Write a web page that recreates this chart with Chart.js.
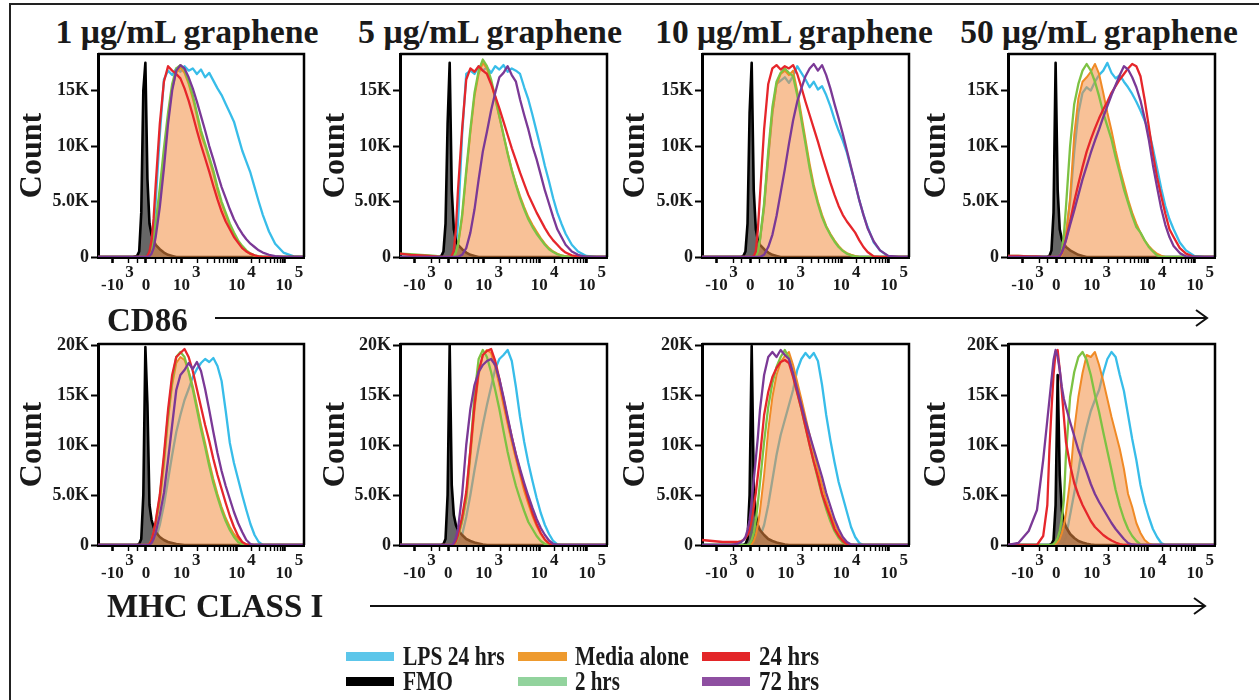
<!DOCTYPE html>
<html>
<head>
<meta charset="utf-8">
<script src="https://cdn.jsdelivr.net/npm/chart.js@4.4.1/dist/chart.umd.min.js"></script>
<style>
  body { margin: 0; background: #fff; width: 1259px; height: 700px; overflow: hidden; position: relative;
         font-family: "Liberation Serif", "Times New Roman", serif; color: #1a1a1a; }
  .frame { position: absolute; left: 9px; top: 3px; width: 1300px; height: 760px;
           border-left: 2px solid #222; border-top: 2px solid #222; }
  .title { position: absolute; top: 16px; font-weight: bold; font-size: 33px; line-height: 33px;
           white-space: nowrap; transform-origin: 50% 50%; }
  .axis-name { position: absolute; left: 107px; font-weight: bold; font-size: 33px; line-height: 33px; white-space: nowrap; }
  canvas { position: absolute; }
  .sw { position: absolute; height: 9px; width: 48px; }
  .lg { position: absolute; font-weight: bold; font-size: 27px; line-height: 27px; white-space: nowrap; transform-origin: 0 50%; }
</style>
</head>
<body>
<div class="frame"></div>
<div id="titles"></div>
<div id="panels"></div>
<div class="axis-name" style="top:304px">CD86</div>
<div class="axis-name" style="top:590px">MHC CLASS I</div>
<svg width="1259" height="700" style="position:absolute;left:0;top:0">
  <line x1="215" y1="318" x2="1206" y2="318" stroke="#111" stroke-width="2"/>
  <polyline points="1196,310 1207,318 1196,326" fill="none" stroke="#111" stroke-width="2"/>
  <line x1="370" y1="606" x2="1204" y2="606" stroke="#111" stroke-width="2"/>
  <polyline points="1194,598 1205,606 1194,614" fill="none" stroke="#111" stroke-width="2"/>
</svg>
<div id="legend"></div>
<script>
"use strict";
// x positions in display channels (0..100 across the plot), shared by every curve
const xs = [0, 5, 10, 14, 17, 19, 20, 21, 22, 23,
  24, 25, 26, 27, 28, 30, 32, 34, 36, 38,
  40, 42, 44, 46, 48, 50, 52, 54, 56, 58,
  60, 62, 64, 66, 68, 70, 72, 74, 76, 78,
  80, 83, 86, 90, 95, 100];

const panelTitles = ["1 \u03bcg/mL graphene", "5 \u03bcg/mL graphene", "10 \u03bcg/mL graphene", "50 \u03bcg/mL graphene"];

// x axis ticks (biexponential display)
const xMajor = [7, 23.3, 40.5, 67.3, 90.3];
const xMajorLabels = [["        3", "-10"], ["", "0"], ["       3", "10"], ["       4", "10"], ["       5", "10"]];
const xMinor = [15, 19, 28, 32, 35.5, 38, 48.5, 53.1, 56.5, 59, 61.1, 62.9, 64.4, 65.8,
  74.4, 78.5, 81.4, 83.7, 85.6, 87.2, 88.5, 89.5];

// y axis ticks, counts in thousands
const yTicksCd86 = [0, 5, 10, 15];
const yLabelsCd86 = ["0", "5.0K", "10K", "15K"];
const yTicksMhc = [0, 5, 10, 15, 20];
const yLabelsMhc = ["0", "5.0K", "10K", "15K", "20K"];

// ---- CD86 (top row), one row per graphene dose ----
const cd86Lps = [
  [0,0,0,0,0,0,0,0,0,0.1, 0.3,0.6,1.2,2.5,5,11,16,16.8,16.4,17, 16.7,17.2,16.8,17,16.5,16.9,16.2,16.6,15.9,15.2, 14.6,13.8,13,12.2,10.9,9.6,8.6,7.6,6.3,5, 3.8,2.3,1.2,0.4,0.05,0],
  [0,0,0,0,0,0,0,0,0,0, 0,0.1,0.3,1,3,11,16.5,16.8,16.5,17.2, 16.8,17.1,16.6,17.2,16.9,17.3,16.7,17,16.8,16.5, 15.3,14.2,12.8,11.3,9.8,8.2,6.8,5.3,4,3, 2.1,1.1,0.5,0.1,0,0],
  [0,0,0,0,0,0,0,0,0,0, 0,0,0.1,0.5,1.5,4.5,9,13,15.6,15.9, 16.2,15.7,16.3,17.2,16.6,16,15.3,15.8,15.1,15.4, 14.6,13.6,12.4,11.4,10.5,9.4,8,6.6,5.1,3.8, 2.7,1.3,0.6,0.05,0,0],
  [0,0,0,0,0,0,0,0,0,0, 0,0,0.3,0.8,2,5,9.5,13,14.8,15.3, 15,15.8,16.4,16.8,17.5,16.6,16.1,16.4,15.8,15.3, 14.7,14,13.2,12.3,11.4,9.8,8,6.2,4.6,3.4, 2.5,1.3,0.6,0.1,0,0]
];
const cd86Fmo = [
  [0,0,0,0,0,0.1,0.5,4,15,17.5, 7,3,2,1.5,1.1,0.7,0.4,0.2,0.1,0, 0,0,0,0,0,0,0,0,0,0, 0,0,0,0,0,0,0,0,0,0, 0,0,0,0,0,0],
  [0,0,0,0,0,0,0.1,0.5,3,12, 17.5,6,2.5,1.5,1.1,0.7,0.4,0.2,0.1,0, 0,0,0,0,0,0,0,0,0,0, 0,0,0,0,0,0,0,0,0,0, 0,0,0,0,0,0],
  [0,0,0,0,0,0,0.1,0.5,3,13, 17.5,6,2.5,1.5,1.1,0.7,0.4,0.2,0.1,0, 0,0,0,0,0,0,0,0,0,0, 0,0,0,0,0,0,0,0,0,0, 0,0,0,0,0,0],
  [0,0,0,0,0,0,0.1,0.6,4,17.5, 6,2.5,1.6,1.2,0.9,0.6,0.4,0.2,0.1,0, 0,0,0,0,0,0,0,0,0,0, 0,0,0,0,0,0,0,0,0,0, 0,0,0,0,0,0]
];
const cd86Media = [
  [0,0,0,0,0,0,0,0,0,0, 0,0.2,0.6,1.6,2.8,5.8,9.2,12.5,15.2,16.6, 17.1,16.6,15.6,14.3,12.7,11,10,8.8,7.5,6, 4.8,3.8,2.8,2.1,1.4,0.9,0.5,0.25,0.1,0.05, 0,0,0,0,0,0],
  [0,0,0,0,0,0,0,0,0,0, 0,0,0.1,0.4,1,3.5,7.5,11.2,14.5,16.5, 17.5,17,15.8,14.2,12.6,11,9.4,7.9,6.6,5.5, 4.5,3.6,2.9,2.3,1.7,1.2,0.8,0.5,0.3,0.15, 0.08,0,0,0,0,0],
  [0,0,0,0,0,0,0,0,0,0, 0,0,0.1,0.5,1.5,4.5,9,13,15.5,16.5, 16.8,16.4,16.8,15,12.8,10.6,8.4,6.5,5,3.8, 2.8,2.1,1.5,1,0.6,0.35,0.2,0.1,0,0, 0,0,0,0,0,0],
  [0,0,0,0,0,0,0,0,0,0, 0,0,0.2,0.8,2,5.3,11,14.3,15.8,16.2, 16.7,17.4,16.5,14.8,13,11.4,9.6,8,6.6,5.2, 4,3,2.2,1.5,1,0.6,0.3,0.12,0,0, 0,0,0,0,0,0]
];
const cd86H2 = [
  [0,0,0,0,0,0,0,0,0,0, 0,0.2,0.7,1.7,3,6.2,9.8,13,15.6,17, 17.3,16.9,15.8,14.6,13,11.4,10.2,9,7.8,6.3, 5,4,3,2.2,1.5,1,0.6,0.3,0.15,0.05, 0,0,0,0,0,0],
  [0.3,0.25,0.2,0.15,0.1,0.05,0,0,0,0, 0,0,0.1,0.4,1.1,3.8,7.8,11.5,14.8,16.8, 17.8,17.2,16,14.4,12.7,11,9.3,7.8,6.5,5.3, 4.3,3.4,2.7,2.1,1.6,1.1,0.7,0.45,0.25,0.12, 0.05,0,0,0,0,0],
  [0,0,0,0,0,0,0,0,0,0, 0,0,0.1,0.5,1.6,4.8,9.5,13.5,15.8,16.6, 17,16.6,16.3,14.6,12.4,10.2,8,6.2,4.8,3.6, 2.7,2,1.4,0.9,0.55,0.3,0.15,0.05,0,0, 0,0,0,0,0,0],
  [0.1,0.1,0.05,0,0,0,0,0,0,0, 0,0.1,0.5,2,4.5,10,13.8,15.6,16.8,17.4, 16.8,15.8,14.5,13,11.8,10.6,9,7.6,6.1,4.9, 3.7,2.7,2.2,1.5,0.9,0.5,0.15,0,0,0, 0,0,0,0,0,0]
];
const cd86H24 = [
  [0,0,0,0,0,0,0,0,0,0, 0.1,0.5,1.5,3.5,6.5,12,15.8,17.2,16.8,16.5, 16.1,15.2,14.1,12.8,11.4,10.1,8.9,7.7,6.4,5.2, 4.1,3.2,2.5,1.8,1.3,0.8,0.5,0.3,0.15,0.05, 0,0,0,0,0,0],
  [0.3,0.2,0.15,0.1,0.05,0,0,0,0,0, 0,0.1,0.6,2.5,6,11.5,16,17,16.7,17.2, 16.8,16.5,15.6,14.5,13.4,12.2,11,9.8,8.7,7.6, 6.6,5.6,4.8,4,3.3,2.6,2,1.5,1.1,0.7, 0.4,0.15,0.05,0,0,0],
  [0,0,0,0,0,0,0,0,0,0, 0,0.1,0.5,2.5,5.5,11.5,15.6,17,17.3,16.9, 17.2,17,17.3,16.5,15.3,14,12.8,11.6,10.4,9.1, 7.9,6.7,5.6,4.6,3.8,3.2,2.7,2.2,1.5,0.9, 0.45,0.05,0,0,0,0],
  [0.1,0.1,0.05,0.05,0,0,0,0,0,0, 0,0.1,0.4,0.9,1.6,3.2,5,6.6,8.1,9.5, 10.6,11.6,12.5,13.3,14,14.8,15.4,16,16.5,17, 17.4,17.2,16.3,14.2,11.8,9.3,7.2,5.5,3.9,2.5, 1.8,0.8,0.3,0,0,0]
];
const cd86H72 = [
  [0,0,0,0,0,0,0,0,0,0, 0,0.1,0.3,0.8,1.8,4.5,8,12,15,16.8, 17.3,17,16.2,15.2,14,12.7,11.4,10,8.8,7.5, 6.3,5.3,4.3,3.4,2.7,2.1,1.6,1.2,0.9,0.6, 0.4,0.2,0.08,0,0,0],
  [0,0,0,0,0,0,0,0,0,0, 0,0,0,0,0,0.2,0.8,2.2,4.3,7, 9.5,11.3,13.2,14.8,16.2,16.6,17.2,16.4,15.8,14.2, 12.8,11.5,10,8.8,7.4,6,4.8,3.6,2.5,1.8, 1.1,0.5,0.2,0,0,0],
  [0,0,0,0,0,0,0,0,0,0, 0,0,0,0,0,0.2,0.9,2,3.7,5.8, 7.9,10.2,12.3,14,15.2,16.3,17,17.4,16.8,17.3, 16.4,15.2,13.8,12.5,11.1,9.6,8.1,6.6,5.1,3.8, 2.6,1.4,0.6,0.1,0,0],
  [0,0,0,0,0,0,0,0,0,0, 0,0.1,0.4,0.9,1.5,2.9,4.2,5.6,7,8.2, 9.4,10.5,11.5,12.6,13.6,14.6,15.5,16.4,17.2,16.9, 16.2,15.3,14.1,12.5,10.6,8.3,6.3,4.4,2.9,1.8, 1,0.35,0.05,0,0,0]
];

// ---- MHC class I (bottom row) ----
const mhcLps = [
  [0,0,0,0,0,0,0,0,0,0, 0,0,0,0.1,0.5,2,4,6.5,9,11.3, 13,14.5,15.6,16.8,17.6,18.2,18.6,18.3,18.7,17.9, 16.4,13.4,10.2,8.2,6.6,5,3.5,2.1,1,0.3, 0,0,0,0,0,0],
  [0,0,0,0,0,0,0,0,0,0, 0,0,0,0,0.2,1,2.8,5,7.5,9.8, 12,14,15.8,17.6,18.6,19,19.5,18.4,15.8,12.8, 10.3,8.2,6.4,4.7,3.2,2,1.1,0.4,0.05,0, 0,0,0,0,0,0],
  [0,0,0,0,0,0,0,0,0,0, 0,0,0.1,0.4,0.8,2,4,6.5,9,11, 12.5,14,15.5,17.5,18.6,19.2,18.7,19.2,18.4,16, 13,10.5,8.3,6.3,4.8,3.3,1.8,0.8,0.2,0, 0,0,0,0,0,0],
  [0,0,0,0,0,0,0,0,0,0, 0,0,0.1,0.3,0.8,3,5.2,7.4,10,11.8, 13.4,14.5,15.5,17.2,18.6,19.3,18.8,17,15.4,13, 10.6,8.5,6,4.2,2.8,1.6,0.8,0.2,0,0, 0,0,0,0,0,0]
];
const mhcFmo = [
  [0,0,0,0,0,0,0.1,0.6,5,19.8, 14,4,2.5,1.8,1.3,0.8,0.5,0.3,0.2,0.1, 0.05,0,0,0,0,0,0,0,0,0, 0,0,0,0,0,0,0,0,0,0, 0,0,0,0,0,0],
  [0,0,0,0,0,0,0,0.1,0.6,5, 20,6,3,2,1.5,1,0.6,0.4,0.25,0.15, 0.05,0,0,0,0,0,0,0,0,0, 0,0,0,0,0,0,0,0,0,0, 0,0,0,0,0,0],
  [0,0,0,0,0,0,0,0.1,0.6,5, 19.9,6,3,2,1.5,1,0.6,0.4,0.25,0.15, 0.05,0,0,0,0,0,0,0,0,0, 0,0,0,0,0,0,0,0,0,0, 0,0,0,0,0,0],
  [0,0,0,0,0,0,0,0.1,0.5,4, 17,7,3.5,2.4,1.8,1.1,0.7,0.4,0.25,0.12, 0.05,0,0,0,0,0,0,0,0,0, 0,0,0,0,0,0,0,0,0,0, 0,0,0,0,0,0]
];
const mhcMedia = [
  [0,0,0,0,0,0,0,0,0,0, 0,0.1,0.4,1,2,4.3,8,12.5,16,18.2, 18.8,18.5,17.4,15.9,14,12,10.2,8.3,6.6,5.1, 3.8,2.7,1.8,1.1,0.6,0.25,0.05,0,0,0, 0,0,0,0,0,0],
  [0,0,0,0,0,0,0,0,0,0, 0,0,0.1,0.3,0.8,2.3,4.5,8.8,13.5,17, 19,19.5,19.2,17.8,16,14,12.1,10.3,8.6,7, 5.4,4.1,2.9,1.9,1.1,0.5,0.1,0,0,0, 0,0,0,0,0,0],
  [0,0,0,0,0,0,0,0,0,0, 0.1,0.4,1,2,3.4,7,11.5,14.8,17,18.3, 18.9,19.3,18,16.3,14.6,12.8,11,9.3,7.6,6, 4.5,3.2,2.1,1.2,0.6,0.2,0.05,0,0,0, 0,0,0,0,0,0],
  [0,0,0,0,0,0,0,0,0,0.1, 0.3,0.6,1.2,2,3.2,6.5,11.5,14.8,17.2,19, 18.8,19.3,18,16.4,14.6,12.8,11.2,9.6,7.6,5.1, 3.8,2.2,1.2,0.5,0.15,0,0,0,0,0, 0,0,0,0,0,0]
];
const mhcH2 = [
  [0,0,0,0,0,0,0,0,0,0, 0,0.1,0.5,1.2,2.2,4.8,8.5,13,16.5,18.8, 19.3,18.8,17.3,15.6,13.6,11.6,9.8,7.9,6.2,4.8, 3.5,2.4,1.5,0.8,0.3,0.05,0,0,0,0, 0,0,0,0,0,0],
  [0,0,0,0,0,0,0,0,0,0, 0,0,0.1,0.3,0.8,2.5,4.8,9.5,15,18.6, 19.5,18.8,17.3,15.5,13.6,11.4,9.3,7.5,5.9,4.6, 3.4,2.3,1.6,0.9,0.4,0.1,0,0,0,0, 0,0,0,0,0,0],
  [0,0,0,0,0,0,0,0,0,0.1, 0.5,1.2,2.5,4.2,6.2,10.3,13.8,16.2,17.8,18.8, 19.5,18.7,17,15.3,13.6,11.8,10,8.3,6.6,5, 3.6,2.4,1.4,0.7,0.25,0.05,0,0,0,0, 0,0,0,0,0,0],
  [0,0,0,0,0,0,0,0,0.1,0.3, 0.7,1.4,2.6,4.5,9,14.8,17.3,18.8,19.3,18.5, 17,15,13.3,11.3,9.4,7.5,5.5,3.9,2.6,1.6, 0.9,0.4,0.05,0,0,0,0,0,0,0, 0,0,0,0,0,0]
];
const mhcH24 = [
  [0,0,0,0,0,0,0,0,0,0, 0,0.1,0.5,1.3,2.4,5,9,13.5,17,18.8, 19.2,19.6,18.8,17.4,15.6,13.8,12,10.4,8.6,7, 5.6,4.2,2.9,1.8,0.9,0.3,0.05,0,0,0, 0,0,0,0,0,0],
  [0,0,0,0,0,0,0,0,0,0, 0,0,0.1,0.4,1,2.8,5.3,9.5,14,17.4, 19,19.4,19.6,18.4,16.6,14.6,12.6,10.8,9,7.4, 5.9,4.5,3.2,2.1,1.2,0.55,0.15,0,0,0, 0,0,0,0,0,0],
  [0.5,0.4,0.3,0.3,0.3,0.4,0.5,0.7,1,1.5, 2.5,3.8,5.2,7,8.8,13,15.3,16.8,17.7,18.3, 18.5,18.2,16.8,15.2,13.6,11.8,10,8.3,6.8,5.1, 3.9,2.8,1.6,0.9,0.4,0.05,0,0,0,0, 0,0,0,0,0,0],
  [0,0,0,0,0.9,4,9.5,13.5,17,19.3, 19.5,17.5,15.3,12.8,10.3,8,6.2,5,4,3.2, 2.4,1.8,1.4,1,0.7,0.45,0.25,0.1,0,0, 0,0,0,0,0,0,0,0,0,0, 0,0,0,0,0,0]
];
const mhcH72 = [
  [0,0,0,0,0,0,0,0,0,0, 0,0,0.2,0.6,1.2,3,5.2,8.5,12,15.5, 17,17.5,18.2,17.6,18.3,17.4,15.6,13.5,11.3,9.2, 7.4,5.9,4.6,3.3,2.2,1.3,0.5,0.1,0,0, 0,0,0,0,0,0],
  [0,0,0,0,0,0,0,0,0,0, 0,0,0.2,0.7,1.6,5,10,13.6,16,17.3, 18,18.4,18.6,18,16.6,14.8,12.8,10.8,9.1,7.6, 6.2,4.9,3.7,2.6,1.7,1,0.45,0.12,0,0, 0,0,0,0,0,0],
  [0,0,0,0,0.1,0.3,0.5,0.8,1.5,2.5, 4.3,6.5,8.6,10.8,13.5,17,18.8,19.3,18.8,19.5, 19,18.6,17.2,15.6,14,12.4,11,9.6,8.2,6.8, 5.2,3.9,2.6,1.6,0.8,0.3,0.05,0,0,0, 0,0,0,0,0,0],
  [0,0.2,1.4,3.5,8.5,12.5,14.5,16.5,18.5,19.5, 18.8,17.5,15.8,14.6,13.8,12.3,10.9,9.5,8.4,7.3, 6.1,5.1,4.3,3.6,2.9,2.2,1.6,1.1,0.6,0.2, 0.05,0,0,0,0,0,0,0,0,0, 0,0,0,0,0,0]
];

// drawing style per sample (lower order = drawn on top)
const series = [
  { key: "lps",   label: "LPS 24 hrs",  color: "#38bde9", swatch: "#5cc6ea", width: 2.3, order: 6 },
  { key: "fmo",   label: "FMO",         color: "#000000", swatch: "#000000", width: 2.6, order: 5, fill: "rgba(95,95,95,0.95)" },
  { key: "media", label: "Media alone", color: "#f08a26", swatch: "#ee9a2e", width: 2,   order: 4, fill: "rgba(243,142,66,0.55)" },
  { key: "h2",    label: "2 hrs",       color: "#7dc243", swatch: "#92d39d", width: 2.3, order: 3 },
  { key: "h24",   label: "24 hrs",      color: "#e6262b", swatch: "#e32628", width: 2.3, order: 2 },
  { key: "h72",   label: "72 hrs",      color: "#7b3996", swatch: "#8e4fa1", width: 2.3, order: 1 }
];
const rows = [
  { sets: { lps: cd86Lps, fmo: cd86Fmo, media: cd86Media, h2: cd86H2, h24: cd86H24, h72: cd86H72 },
    yMax: 18.3, yTicks: yTicksCd86, yLabels: yLabelsCd86, top: 54, bottom: 257 },
  { sets: { lps: mhcLps, fmo: mhcFmo, media: mhcMedia, h2: mhcH2, h24: mhcH24, h72: mhcH72 },
    yMax: 20.1, yTicks: yTicksMhc, yLabels: yLabelsMhc, top: 344, bottom: 545 }
];

const FONT = "'Liberation Serif','Times New Roman',serif";
const colLeft = [98, 400, 702, 1008];
const colWidth = [206, 207, 207, 207];
const axisW = [81, 80, 82, 87];
const titleCenter = [187, 490, 794, 1099];
const titleWidth = [263, 264, 278, 278];
const PAD = 8, XAXIS_H = 50;
const xTickValues = xMajor.concat(xMinor).sort((a, b) => a - b);

// top and right edges of the plot box
const boxPlugin = {
  id: "box",
  afterDraw(chart) {
    const { ctx, chartArea: a } = chart;
    ctx.save();
    ctx.strokeStyle = "#000";
    ctx.lineWidth = 2.5;
    ctx.beginPath();
    ctx.moveTo(a.left, a.top);
    ctx.lineTo(a.right, a.top);
    ctx.lineTo(a.right, a.bottom);
    ctx.stroke();
    ctx.restore();
  }
};

const panels = document.getElementById("panels");
rows.forEach((row, r) => {
  for (let c = 0; c < 4; c++) {
    const cv = document.createElement("canvas");
    const w = axisW[c] + colWidth[c] + PAD;
    const h = PAD + (row.bottom - row.top) + XAXIS_H;
    cv.width = w; cv.height = h;
    cv.style.width = w + "px"; cv.style.height = h + "px";
    cv.style.left = (colLeft[c] - axisW[c]) + "px";
    cv.style.top = (row.top - PAD) + "px";
    panels.appendChild(cv);

    const datasets = series.map(s => ({
      label: s.label,
      data: xs.map((x, i) => ({ x: x, y: row.sets[s.key][c][i] })),
      borderColor: s.color,
      borderWidth: s.width,
      backgroundColor: s.fill || "rgba(0,0,0,0)",
      fill: s.fill ? "origin" : false,
      pointRadius: 0,
      tension: 0,
      borderJoinStyle: "round",
      order: s.order
    }));

    new Chart(cv, {
      type: "line",
      data: { datasets: datasets },
      plugins: [boxPlugin],
      options: {
        responsive: false,
        animation: false,
        devicePixelRatio: 1,
        layout: { padding: { top: PAD, right: PAD, left: 0, bottom: 0 } },
        plugins: { legend: { display: false }, tooltip: { enabled: false } },
        scales: {
          x: {
            type: "linear", min: 0, max: 100,
            afterBuildTicks: s => { s.ticks = xTickValues.map(v => ({ value: v })); },
            afterFit: s => { s.height = XAXIS_H; s.paddingLeft = 0; s.paddingRight = 0; },
            border: { display: true, color: "#000", width: 3 },
            grid: {
              drawOnChartArea: false, drawTicks: true, tickLength: 6, tickColor: "#000",
              tickWidth: ctx => (ctx.tick && xMajor.includes(ctx.tick.value)) ? 2.6 : 1.4
            },
            ticks: {
              autoSkip: false, maxRotation: 0, minRotation: 0, padding: 3, color: "#1a1a1a",
              font: { family: FONT, size: 17, weight: "bold", lineHeight: 0.78 },
              callback: v => { const i = xMajor.indexOf(v); return i < 0 ? "" : xMajorLabels[i]; }
            }
          },
          y: {
            min: 0, max: row.yMax,
            afterBuildTicks: s => { s.ticks = row.yTicks.map(v => ({ value: v })); },
            afterFit: s => { s.width = axisW[c]; s.paddingTop = 0; s.paddingBottom = 0; },
            border: { display: true, color: "#000", width: 3 },
            grid: { drawOnChartArea: false, tickLength: 7, tickColor: "#000", tickWidth: 2 },
            ticks: {
              padding: 2, color: "#1a1a1a",
              font: { family: FONT, size: 18, weight: "bold" },
              callback: (v, i) => row.yLabels[i]
            },
            title: {
              display: true, text: "Count", color: "#1a1a1a", padding: 0,
              font: { family: FONT, size: 32, weight: "bold", lineHeight: 1 }
            }
          }
        }
      }
    });
  }
});

// column titles
const titles = document.getElementById("titles");
panelTitles.forEach((t, c) => {
  const d = document.createElement("div");
  d.className = "title";
  d.textContent = t;
  d.style.left = titleCenter[c] + "px";
  titles.appendChild(d);
  const k = titleWidth[c] / d.offsetWidth;
  d.style.transform = "translateX(-50%) scaleX(" + k.toFixed(3) + ")";
});

// shared legend, two rows of three
const legendX = [346, 518, 702];
const legendY = [652, 677];
const legendTextW = [102, 50, 114, 45, 60, 60];
const legendOrder = ["lps", "fmo", "media", "h2", "h24", "h72"];
const legend = document.getElementById("legend");
legendOrder.forEach((key, i) => {
  const s = series.find(q => q.key === key);
  const col = Math.floor(i / 2), rr = i % 2;
  const sw = document.createElement("div");
  sw.className = "sw";
  sw.style.left = legendX[col] + "px";
  sw.style.top = legendY[rr] + "px";
  sw.style.width = (col === 1 ? 49 : 48) + "px";
  sw.style.background = s.swatch;
  legend.appendChild(sw);
  const tx = document.createElement("div");
  tx.className = "lg";
  tx.textContent = s.label;
  tx.style.left = (legendX[col] + 57) + "px";
  tx.style.top = (legendY[rr] - 9) + "px";
  legend.appendChild(tx);
  tx.style.transform = "scaleX(" + (legendTextW[i] / tx.offsetWidth).toFixed(3) + ")";
});
</script>
</body>
</html>
